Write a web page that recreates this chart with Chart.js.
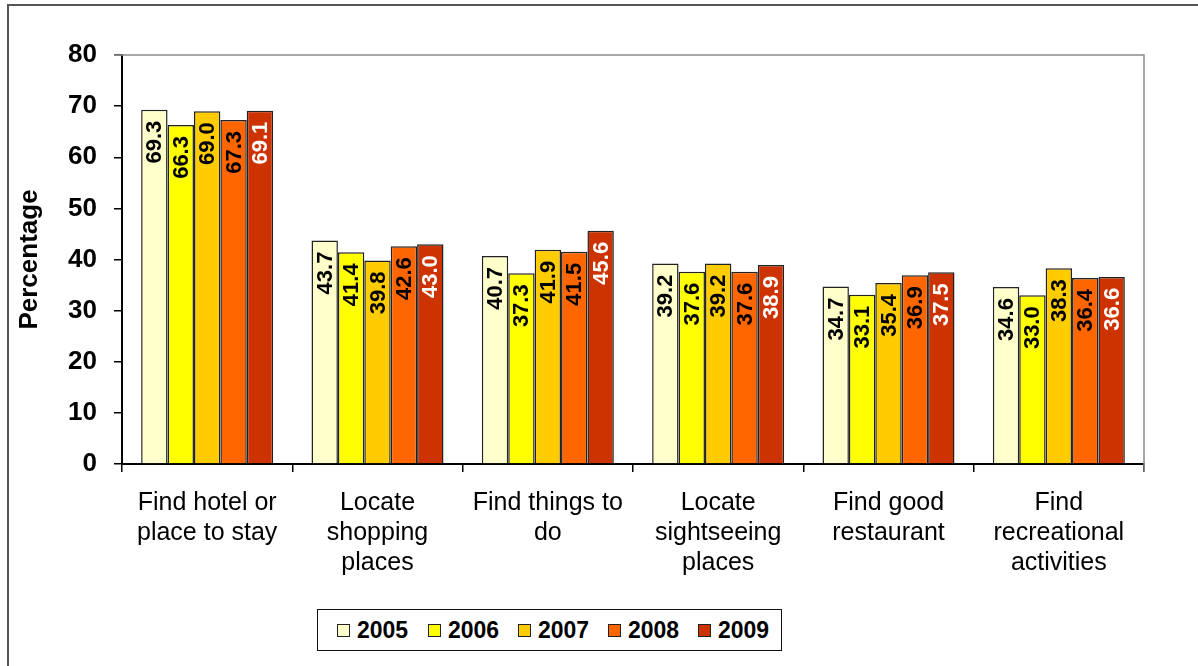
<!DOCTYPE html>
<html>
<head>
<meta charset="utf-8">
<script src="https://cdn.jsdelivr.net/npm/chart.js@4.4.1/dist/chart.umd.min.js"></script>
<style>
  html, body { margin: 0; padding: 0; background: #fff; }
  body { width: 1198px; height: 666px; position: relative; overflow: hidden; font-family: "Liberation Sans", Arial, sans-serif; }
  #frame { position: absolute; left: 7px; top: 4px; width: 1300px; height: 800px; border-left: 2px solid #555; border-top: 2px solid #555; }
  #wrap { position: absolute; left: 0; top: 0; width: 1198px; height: 666px; }
  #legend { position: absolute; left: 317px; top: 609px; width: 463px; height: 40px; border: 1.5px solid #111; background: #fff; }
  .item { position: absolute; top: 0; height: 40px; display: flex; align-items: center; font-weight: bold; font-size: 23px; color: #000; }
  .swatch { width: 11px; height: 11px; border: 1px solid #222; margin-right: 7px; }
</style>
</head>
<body>
<div id="frame"></div>
<div id="wrap"><canvas id="chart" width="1198" height="666"></canvas></div>
<div id="legend"></div>
<script>
/* ===== categories & series ===== */
const categories = [
  ["Find hotel or", "place to stay"],
  ["Locate", "shopping", "places"],
  ["Find things to", "do"],
  ["Locate", "sightseeing", "places"],
  ["Find good", "restaurant"],
  ["Find", "recreational", "activities"],
];

const years = ["2005", "2006", "2007", "2008", "2009"];

const values2005 = [69.3, 43.7, 40.7, 39.2, 34.7, 34.6];
const values2006 = [66.3, 41.4, 37.3, 37.6, 33.1, 33.0];
const values2007 = [69.0, 39.8, 41.9, 39.2, 35.4, 38.3];
const values2008 = [67.3, 42.6, 41.5, 37.6, 36.9, 36.4];
const values2009 = [69.1, 43.0, 45.6, 38.9, 37.5, 36.6];

const yTicks = [0, 10, 20, 30, 40, 50, 60, 70, 80];

const seriesColors = ["#FFFFCC", "#FFFF00", "#FFCC00", "#FF6600", "#CC3300"];
const labelColors = ["#000", "#000", "#000", "#000", "#fff"];

const fontFamily = "'Liberation Sans', Arial, sans-serif";

/* ===== plugins ===== */
// grey top/right frame of plot area
const plotFrame = {
  id: "plotFrame",
  afterDraw(chart) {
    const { ctx, chartArea: a } = chart;
    ctx.save();
    ctx.strokeStyle = "#8a8a8a";
    ctx.lineWidth = 1.5;
    ctx.beginPath();
    ctx.moveTo(a.left - 8, a.top);
    ctx.lineTo(a.right, a.top);
    ctx.lineTo(a.right, a.bottom + 8);
    ctx.stroke();
    ctx.restore();
  },
};

// vertical value labels inside bar tops
const barLabels = {
  id: "barLabels",
  afterDatasetsDraw(chart) {
    const { ctx } = chart;
    ctx.save();
    ctx.font = `bold 22px ${fontFamily}`;
    ctx.textAlign = "right";
    ctx.textBaseline = "middle";
    chart.data.datasets.forEach((ds, i) => {
      const meta = chart.getDatasetMeta(i);
      meta.data.forEach((bar, j) => {
        ctx.save();
        ctx.translate(bar.x, bar.y + 11);
        ctx.rotate(-Math.PI / 2);
        ctx.fillStyle = labelColors[i];
        ctx.fillText(ds.data[j].toFixed(1), 0, 1);
        ctx.restore();
      });
    });
    ctx.restore();
  },
};

/* ===== chart ===== */
const seriesValues = [values2005, values2006, values2007, values2008, values2009];

new Chart(document.getElementById("chart"), {
  type: "bar",
  data: {
    labels: categories,
    datasets: years.map((y, i) => ({
      label: y,
      data: seriesValues[i],
      backgroundColor: seriesColors[i],
      borderColor: "#222",
      borderWidth: 1.5,
      categoryPercentage: 0.775,
      barPercentage: 1.0,
    })),
  },
  options: {
    responsive: false,
    animation: false,
    devicePixelRatio: 1,
    layout: { padding: { top: 55, right: 54, left: 0, bottom: 0 } },
    plugins: {
      legend: { display: false },
      tooltip: { enabled: false },
    },
    scales: {
      x: {
        afterFit: (s) => { s.height = 202; },
        grid: { offset: true, drawOnChartArea: false, drawTicks: true, tickLength: 8, color: "#000", lineWidth: 1.5 },
        border: { display: true, color: "#000", width: 2 },
        ticks: {
          color: "#000",
          padding: 16,
          maxRotation: 0,
          autoSkip: false,
          font: { family: fontFamily, size: 25, lineHeight: "30px" },
        },
      },
      y: {
        min: 0,
        max: 80,
        afterFit: (s) => { s.width = 122; },
        afterBuildTicks: (s) => { s.ticks = yTicks.map(v => ({ value: v })); },
        grid: { drawOnChartArea: false, drawTicks: true, tickLength: 8, color: "#000", lineWidth: 1.5 },
        border: { display: true, color: "#000", width: 2 },
        ticks: {
          color: "#000",
          padding: 17,
          font: { family: fontFamily, size: 26, weight: "bold" },
        },
        title: {
          display: true,
          text: "Percentage",
          color: "#000",
          padding: { top: 14, bottom: 0 },
          font: { family: fontFamily, size: 26, weight: "bold" },
        },
      },
    },
  },
  plugins: [plotFrame, barLabels],
});

/* ===== legend ===== */
const legendEl = document.getElementById("legend");
const legendOffsets = [19, 110, 200, 290, 380];
years.forEach((y, i) => {
  const item = document.createElement("div");
  item.className = "item";
  item.style.left = legendOffsets[i] + "px";
  item.innerHTML = `<span class="swatch" style="background:${seriesColors[i]}"></span>${y}`;
  legendEl.appendChild(item);
});
</script>
</body>
</html>
